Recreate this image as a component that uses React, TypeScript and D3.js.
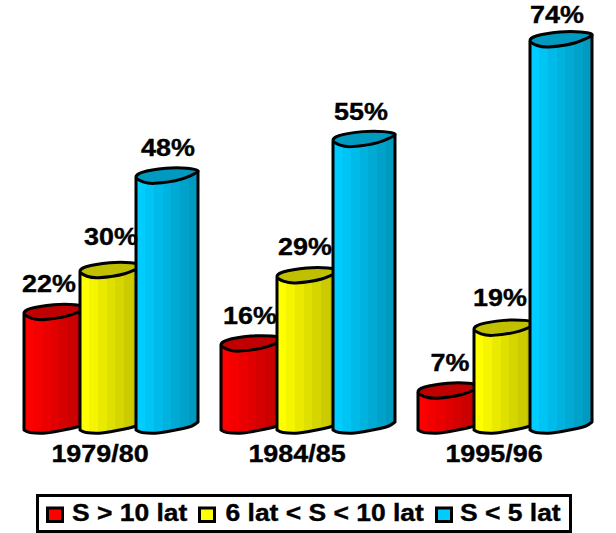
import React from 'react';
import * as d3 from 'd3';

const periods = ['1979/80', '1984/85', '1995/96'];
const seriesNames = ['S > 10 lat', '6 lat < S < 10 lat', 'S < 5 lat'];
const over10 = [22, 16, 7];
const from6to10 = [30, 29, 19];
const under5 = [48, 55, 74];
const seriesValues = [over10, from6to10, under5];

const bright = ['#ff0000', '#ffff00', '#00ccff'];
const dark = ['#c00000', '#c0c000', '#0099bf'];

// the value labels were placed by hand in the original, so nudge them [dx, dy] per series/period
const labelNudge = [
  [[25, -23], [29, -22], [32, -22]],
  [[31, -28], [28, -23], [26, -24]],
  [[32, -22], [28, -22], [27, -19]],
];

const W = 616;
const H = 533;
const barW = 62;
const font = '"Liberation Sans", Arial, sans-serif';

// the original type is a wide Helvetica bold, so stretch it a bit
const WideText = ({ x, y, anchor = 'middle', stretch = 1.17, children }: any) => (
  <text
    transform={`translate(${x},${y}) scale(${stretch},1)`}
    textAnchor={anchor}
    fontSize={23}
    fill="#000"
    stroke="#000"
    strokeWidth={0.35}
    style={{ whiteSpace: 'pre' }}
  >
    {children}
  </text>
);

const App = () => {
  const x0 = d3.scaleBand().domain(periods).range([24, 615]);
  const x1 = d3.scaleBand().domain(seriesNames).range([0, 168]);
  const y = d3.scaleLinear().domain([0, 74]).range([430, 42]);

  const closed = d3.line().curve(d3.curveCardinalClosed.tension(0.15));
  const open = d3.line().curve(d3.curveCardinal.tension(0.15));

  // cylinder top, drawn skewed like the old 3D chart
  const capPath = (x: number, top: number) =>
    closed([
      [x, top - 1],
      [x + 6, top - 6],
      [x + barW * 0.48, top - 10],
      [x + barW * 0.82, top - 10],
      [x + barW, top - 7],
      [x + barW * 0.72, top + 1],
      [x + barW * 0.3, top + 5],
      [x + 7, top + 3.5],
    ]);

  const bottomEdge = (x: number) =>
    open([
      [x, y(0)],
      [x + 6, y(0) + 2.5],
      [x + barW * 0.35, y(0) + 3],
      [x + barW * 0.72, y(0) - 1],
      [x + barW * 0.9, y(0) - 4],
      [x + barW, y(0) - 8],
    ]);

  // banded shading, bright on the left and darkening to the right
  const bands = 7;
  const stops = (i: number) => {
    const c = d3.interpolateRgb(bright[i], dark[i]);
    return d3.range(bands).flatMap(b => [
      <stop key={b + 'a'} offset={b / bands} stopColor={c(b / (bands - 1))} />,
      <stop key={b + 'b'} offset={(b + 1) / bands} stopColor={c(b / (bands - 1))} />,
    ]);
  };

  const legendX = [47.5, 199.5, 436.5];
  const legendTextX = [72, 225.5, 460];

  return (
    <svg width={W} height={H} style={{ position: 'absolute', left: 0, top: 0, background: '#fff' }} fontFamily={font} fontWeight="bold">
      <defs>
        {seriesNames.map((s, i) => (
          <linearGradient id={`band${i}`} key={s} x1="0" x2="1" y1="0" y2="0">
            {stops(i)}
          </linearGradient>
        ))}
      </defs>

      {periods.map((p, pi) => (
        <g key={p}>
          {seriesNames.map((s, si) => {
            const x = (x0(p) as number) + (x1(s) as number);
            const top = y(seriesValues[si][pi]);
            return (
              <g key={s} stroke="#000" strokeWidth={3} strokeLinejoin="round">
                <path
                  d={`M${x},${top} L${x},${y(0)} ${(bottomEdge(x) as string).replace(/^M[^CL]*/, '')} L${x + barW},${top - 7} Z`}
                  fill={`url(#band${si})`}
                />
                <path d={capPath(x, top) as string} fill={dark[si]} />
              </g>
            );
          })}
          {seriesNames.map((s, si) => {
            const x = (x0(p) as number) + (x1(s) as number);
            const top = y(seriesValues[si][pi]);
            const [dx, dy] = labelNudge[si][pi];
            return (
              <WideText key={s} x={x + dx} y={top + dy}>
                {seriesValues[si][pi]}%
              </WideText>
            );
          })}
          <WideText x={(x0(p) as number) + 76} y={462}>
            {p}
          </WideText>
        </g>
      ))}

      <rect x={37.5} y={495.5} width={533} height={36} fill="#fff" stroke="#000" strokeWidth={3} />
      {seriesNames.map((s, i) => (
        <g key={s}>
          <rect x={legendX[i]} y={508} width={15} height={13.5} fill={bright[i]} stroke="#000" strokeWidth={3} />
          <WideText x={legendTextX[i]} y={521} anchor="start" stretch={1.15}>
            {s}
          </WideText>
        </g>
      ))}
    </svg>
  );
};

export default App;
